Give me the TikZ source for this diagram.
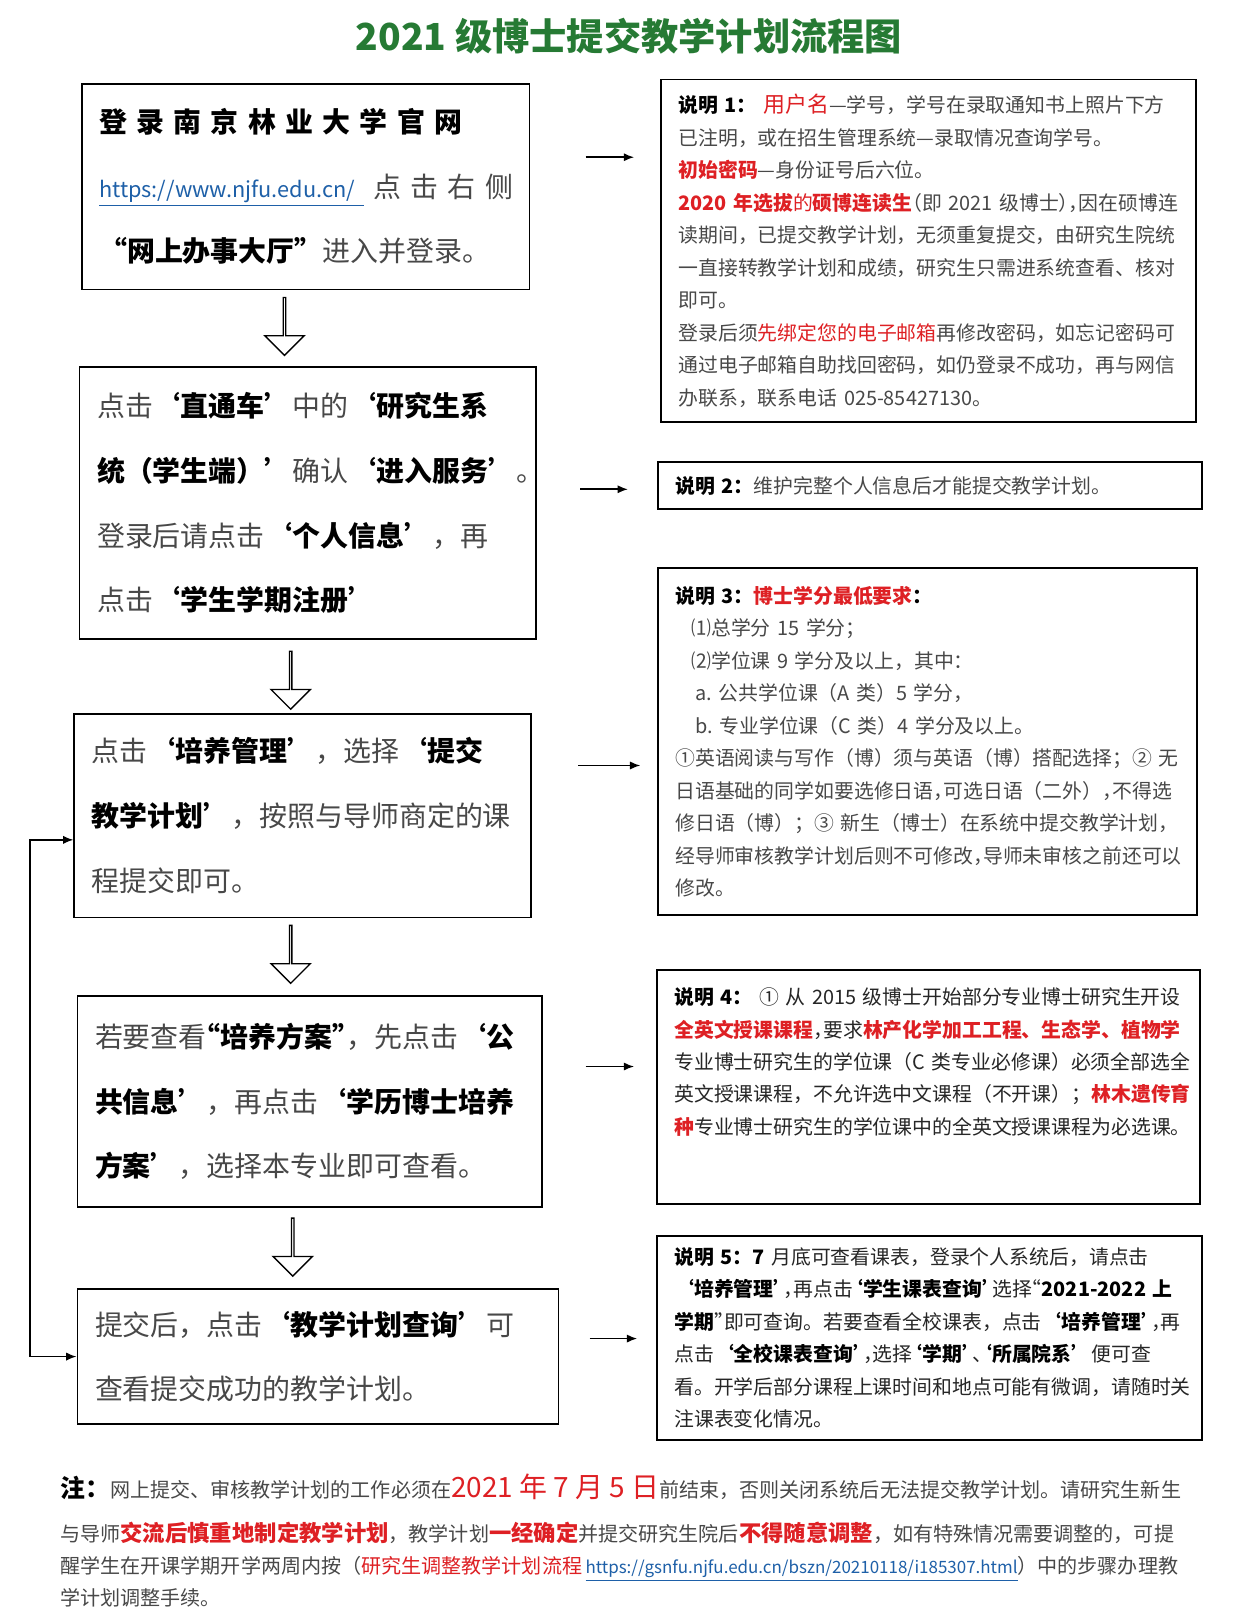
\documentclass[tikz,border=0pt]{standalone}
\usepackage{fontspec}
\setmainfont{Noto Sans CJK SC}
\usetikzlibrary{positioning,arrows.meta,calc,shapes.arrows}
\definecolor{leafgreen}{RGB}{38,122,52}
\definecolor{alertred}{RGB}{222,32,36}
\definecolor{linkblue}{RGB}{30,96,168}
\definecolor{ink}{RGB}{72,72,72}
\XeTeXdashbreakstate=0
\exhyphenpenalty=10000
\hyphenpenalty=10000
\newcommand{\kw}[1]{{\bfseries\color{black}#1}}
\newcommand{\rd}[1]{{\color{alertred}#1}}
\newcommand{\rdb}[1]{{\bfseries\color{alertred}#1}}
\newcommand{\hw}[1]{{\addfontfeatures{RawFeature=+halt}#1}}

\begin{document}
\begin{tikzpicture}[x=0.5pt,y=-0.5pt,>={Latex[length=5pt,width=4pt]},
    stepbox/.style={draw,line width=0.9pt,anchor=north west,align=left,inner xsep=8.5pt,inner ysep=3pt,text=ink,font=\fontsize{13.5}{31.25}\selectfont},
    notebox/.style={draw,line width=0.9pt,anchor=north west,align=left,inner xsep=8.5pt,inner ysep=3pt,text=ink,font=\fontsize{9.6}{15.7}\selectfont},
    downarrow/.style={single arrow,draw,line width=0.65pt,rotate=-90,minimum height=28pt,minimum width=19pt,single arrow head extend=5pt,inner sep=0pt}]
    \path[use as bounding box,fill=white] (0,0) rectangle (1200,1568);
    \node[text=leafgreen,font=\bfseries\fontsize{18}{22}\selectfont] (title) at (608,35) {2021 级博士提交教学计划流程图};
    % left column: the steps
    \node[stepbox,text width=199.5pt,minimum height=99.5pt] (stepA) at (78,80) {%
      \makebox[\linewidth][s]{\kw{登~录~南~京~林~业~大~学~官~网}}\\
      \makebox[\linewidth][s]{{\fontsize{10.5}{31.25}\selectfont\color{linkblue}\underline{https://www.njfu.edu.cn/\ }}~点~击~右~侧}\\
      \kw{“网上办事大厅”}进入并登录。};
    \node[stepbox,text width=203.5pt,minimum height=131.5pt] (stepB) at (76,354) {%
      点击\kw{‘直通车’}中的\kw{‘研究生系}\\
      \kw{统（学生端）’}确认\kw{‘进入服务’}。\\
      登录后请点击\kw{‘个人信息’}，再\\
      点击\kw{‘学生学期注册’}};
    \node[stepbox,text width=203.5pt,minimum height=98.5pt] (stepC) at (71,689) {%
      点击\kw{‘培养管理’}，选择\kw{‘提交}\\
      \kw{教学计划’}，按照与导师商定的课\\
      程提交即可。};
    \node[stepbox,text width=207.5pt,minimum height=102pt] (stepD) at (74,962) {%
      若要查看\kw{\hw{“}培养方案\hw{”}}，先点击\kw{‘公}\\
      \kw{共信息’}，再点击\kw{‘学历博士培养}\\
      \kw{方案’}，选择本专业即可查看。};
    \node[stepbox,text width=215.5pt,minimum height=65.5pt] (stepE) at (74,1245) {%
      提交后，点击\kw{‘教学计划查询’}可\\
      查看提交成功的教学计划。};
    \node[downarrow] (flowAB) at (275,315) {};
    \node[downarrow] (flowBC) at (281,657) {};
    \node[downarrow] (flowCD) at (281,922) {};
    \node[downarrow] (flowDE) at (283,1205) {};
    % right column: the notes
    \node[notebox,text width=241.5pt,minimum height=165.5pt] (note1) at (638,76) {%
      \kw{说明~1：}~\rd{\fontsize{10.6}{15.7}\selectfont 用户名}—学号，学号在录取通知书上照片下方\\
      已注明，或在招生管理系统—录取情况查询学号。\\
      \rdb{初始密码}—身份证号后六位。\\
      \rdb{2020~年选拔}\rd{的}\rdb{硕博连读生}\hw{（}即~2021~级博士\hw{），}因在硕博连\\
      读期间，已提交教学计划，无须重复提交，由研究生院统\\
      一直接转教学计划和成绩，研究生只需进系统查看、核对\\
      即可。\\
      登录后须\rd{先绑定您的电子邮箱}再修改密码，如忘记密码可\\
      通过电子邮箱自助找回密码，如仍登录不成功，再与网信\\
      办联系，联系电话~025-85427130。};
    \node[notebox,text width=246pt,minimum height=22.5pt] (note2) at (635,446) {%
      \kw{说明~2：}维护完整个人信息后才能提交教学计划。};
    \node[notebox,text width=243.5pt,minimum height=168pt] (note3) at (635,548) {%
      \kw{说明~3：}\rdb{博士学分最低要求}\kw{：}\\
      \hspace*{0.8em}⑴总学分~15~学分；\\
      \hspace*{0.8em}⑵学位课~9~学分及以上，其中：\\
      \hspace*{1em}a.~公共学位课（A~类）5~学分，\\
      \hspace*{1em}b.~专业学位课（C~类）4~学分及以上。\\
      ①英语阅读与写作（博）须与英语（博）搭配选择；②~无\\
      日语基础的同学如要选修日语\hw{，}可选日语（二外）\hw{，}不得选\\
      修日语（博）；③~新生（博士）在系统中提交教学计划\hw{，}\\
      经导师审核教学计划后则不可修改\hw{，}导师未审核之前还可以\\
      修改。};
    \node[notebox,text=black!85,text width=245.5pt,minimum height=113pt] (note4) at (634,937) {%
      \kw{说明~4：}~①~从~2015~级博士开始部分专业博士研究生开设\\
      \rdb{全英文授课课程}\hw{，}要求\rdb{林产化学加工工程、生态学、植物学}\\
      专业博士研究生的学位课（C~类专业必修课）必须全部选全\\
      英文授课课程，不允许选中文课程（不开课）；\rdb{林木遗传育}\\
      \rdb{种}专业博士研究生的学位课中的全英文授课课程为必选课。\\[9.5pt]
      \mbox{}};
    \node[notebox,text=black!85,text width=246.5pt,minimum height=98.5pt] (note5) at (634,1194) {%
      \kw{说明~5：7}~月底可查看课表，登录个人系统后，请点击\\
      \kw{‘培养管理\hw{’}}\hw{，}再点击\kw{\hw{‘}学生课表查询\hw{’}}选择\hw{“}\kw{2021-2022~上}\\
      \kw{学期}\hw{”}即可查询。若要查看全校课表，点击\kw{‘培养管理\hw{’}}\hw{，}再\\
      点击\kw{‘全校课表查询\hw{’}}\hw{，}选择\kw{\hw{‘}学期\hw{’}}\hw{、}\kw{\hw{‘}所属院系’}便可查\\
      看。开学后部分课程上课时间和地点可能有微调，请随时关\\
      注课表变化情况。};
    % arrows from the steps to the notes
    \coordinate (tail1) at (566,152); \coordinate (tip1) at (613,152);
    \coordinate (tail2) at (561,473); \coordinate (tip2) at (607,473);
    \coordinate (tail3) at (559,740); \coordinate (tip3) at (619,740);
    \coordinate (tail4) at (566,1031); \coordinate (tip4) at (613,1031);
    \coordinate (tail5) at (570,1294); \coordinate (tip5) at (616,1294);
    \draw[->,line width=0.8pt] (tail1) -- (tip1);
    \draw[->,line width=0.8pt] (tail2) -- (tip2);
    \draw[->,line width=0.8pt] (tail3) -- (tip3);
    \draw[->,line width=0.8pt] (tail4) -- (tip4);
    \draw[->,line width=0.8pt] (tail5) -- (tip5);
    % back loop between submit and check
    \draw[<->,line width=0.8pt] ($(stepC.west)+(0,23.5)$) -- ++(-42,0) |- (stepE.west);
    \node[anchor=north west,align=left,inner sep=0pt,text=ink,font=\fontsize{9.7}{15.5}\selectfont] (footnote) at (58,1424) {%
      {\fontsize{12}{15.5}\selectfont\kw{注：}}网上提交、审核教学计划的工作必须在{\fontsize{13.5}{15.5}\selectfont\rd{2021 年 7 月 5 日}}前结束，否则关闭系统后无法提交教学计划。请研究生新生\\[6pt]
      与导师{\fontsize{10.8}{15.5}\selectfont\rdb{交流后慎重地制定教学计划}}，教学计划{\fontsize{10.8}{15.5}\selectfont\rdb{一经确定}}并提交研究生院后{\fontsize{10.8}{15.5}\selectfont\rdb{不得随意调整}}，如有特殊情况需要调整的，可提\\
      醒学生在开课学期开学两周内按（\rd{研究生调整教学计划流程}\,{\fontsize{8.2}{15.5}\selectfont\color{linkblue}\underline{https://gsnfu.njfu.edu.cn/bszn/20210118/i185307.html}}）中的步骤办理教\\
      学计划调整手续。};
  \end{tikzpicture}
\end{document}
